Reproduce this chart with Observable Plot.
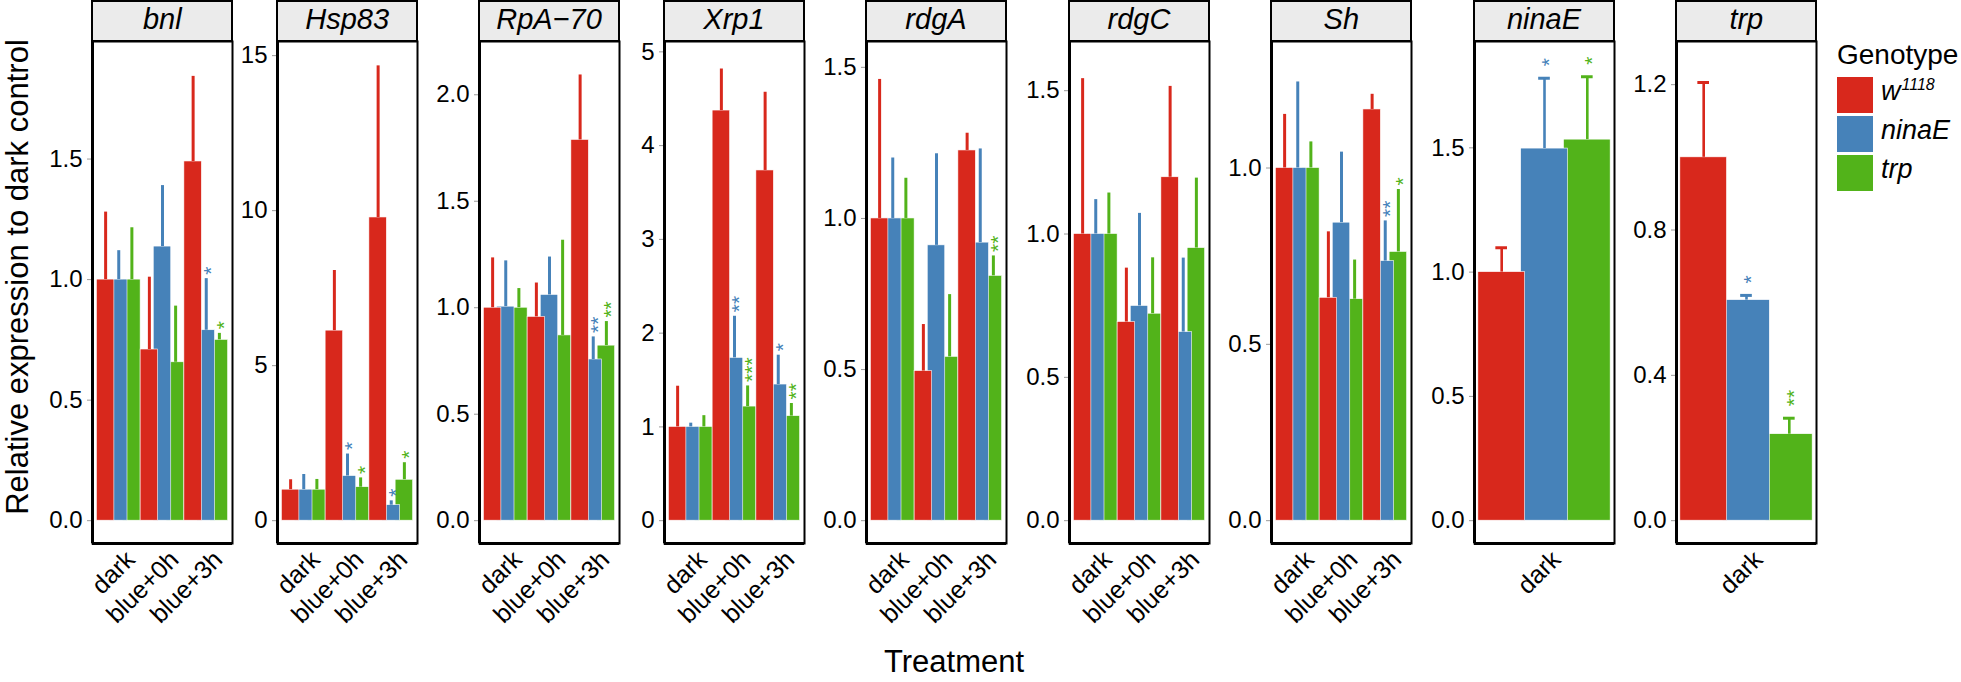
<!DOCTYPE html>
<html>
<head>
<meta charset="utf-8">
<script src="https://cdn.jsdelivr.net/npm/d3@7"></script>
<script src="https://cdn.jsdelivr.net/npm/@observablehq/plot@0.6"></script>
<style>
  body { margin: 0; background: #fff; font-family: "Liberation Sans", Arial, sans-serif; }
  #chart { position: relative; width: 1961px; height: 682px; overflow: hidden; background: #fff; }
  .strip { position: absolute; top: 0; height: 42px; box-sizing: border-box; border: 2px solid #000;
           background: #EBEBEB; }
  .strip span { position: absolute; left: 0; right: 0; top: 3px; text-align: center; font-style: italic;
                font-size: 29px; line-height: 29px; color: #000; }
  .ytitle { position: absolute; left: 16.5px; top: 277px; transform: translate(-50%, -50%) rotate(-90deg);
            white-space: nowrap; font-size: 31px; line-height: 31px; color: #000; }
  .xtitle { position: absolute; left: 954px; top: 646px; transform: translateX(-50%);
            white-space: nowrap; font-size: 31px; line-height: 31px; color: #000; }
  .legtitle { position: absolute; left: 1837px; top: 41px; font-size: 28px; line-height: 28px; color: #000; }
  .key { position: absolute; left: 1837px; width: 36px; height: 36px; }
  .klab { position: absolute; left: 1881px; font-size: 27px; line-height: 27px; font-style: italic; color: #000; white-space: nowrap; }
  .klab sup { font-size: 16px; vertical-align: baseline; position: relative; top: -10px; line-height: 0; margin-left: 1px; }
</style>
</head>
<body>
<div id="chart"></div>
<script>
// ---------------- data ----------------
const treatments = ["dark", "blue+0h", "blue+3h"];
const genotypes = ["w1118", "ninaE", "trp"];
const genotypeColors = ["#D8281C", "#4682B9", "#52B31A"];
const genes = ["bnl", "Hsp83", "RpA\u221270", "Xrp1", "rdgA", "rdgC", "Sh", "ninaE", "trp"];

// values ordered: dark (w1118, ninaE, trp), blue+0h (...), blue+3h (...)
// mean = bar height, upper = mean + s.e. (top of error bar), sig = significance label
const bnlMean  = [1.00, 1.00, 1.00,  0.71, 1.137, 0.657,  1.49, 0.79, 0.75];
const bnlUpper = [1.28, 1.12, 1.215, 1.01, 1.39, 0.89,   1.843, 1.004, 0.777];
const bnlSig   = ["", "", "",  "", "", "",  "", "*", "*"];

const hsp83Mean  = [1.00, 1.00, 1.00,  6.13, 1.44, 1.08,  9.78, 0.50, 1.32];
const hsp83Upper = [1.32, 1.49, 1.33,  8.07, 2.15, 1.38,  14.67, 0.64, 1.87];
const hsp83Sig   = ["", "", "",  "", "*", "*",  "", "*", "*"];

const rpaMean  = [1.00, 1.005, 1.00,  0.957, 1.06, 0.87,  1.788, 0.757, 0.822];
const rpaUpper = [1.234, 1.22, 1.09,  1.116, 1.238, 1.317,  2.093, 0.863, 0.935];
const rpaSig   = ["", "", "",  "", "", "",  "", "**", "**"];

const xrp1Mean  = [1.00, 1.00, 1.00,  4.374, 1.736, 1.217,  3.735, 1.452, 1.115];
const xrp1Upper = [1.434, 1.04, 1.12,  4.817, 2.18, 1.437,  4.569, 1.765, 1.25];
const xrp1Sig   = ["", "", "",  "", "**", "***",  "", "*", "**"];

const rdgAMean  = [1.00, 1.00, 1.00,  0.495, 0.911, 0.542,  1.225, 0.92, 0.81];
const rdgAUpper = [1.46, 1.20, 1.133,  0.649, 1.214, 0.748,  1.282, 1.23, 0.876];
const rdgASig   = ["", "", "",  "", "", "",  "", "", "**"];

const rdgCMean  = [1.00, 1.00, 1.00,  0.693, 0.749, 0.722,  1.198, 0.658, 0.951];
const rdgCUpper = [1.542, 1.12, 1.143,  0.881, 1.072, 0.917,  1.515, 0.916, 1.195];
const rdgCSig   = ["", "", "",  "", "", "",  "", "", ""];

const shMean  = [1.00, 1.00, 1.00,  0.632, 0.845, 0.628,  1.166, 0.736, 0.762];
const shUpper = [1.152, 1.244, 1.074,  0.819, 1.045, 0.739,  1.209, 0.85, 0.939];
const shSig   = ["", "", "",  "", "", "",  "", "**", "*"];

const ninaEMean  = [1.00, 1.497, 1.533];
const ninaEUpper = [1.098, 1.78, 1.786];
const ninaESig   = ["", "*", "*"];

const trpMean  = [1.00, 0.607, 0.238];
const trpUpper = [1.206, 0.62, 0.282];
const trpSig   = ["", "*", "**"];

// y tick values per panel
const bnlTicks   = [0, 0.5, 1, 1.5];
const hsp83Ticks = [0, 5, 10, 15];
const rpaTicks   = [0, 0.5, 1, 1.5, 2];
const xrp1Ticks  = [0, 1, 2, 3, 4, 5];
const rdgATicks  = [0, 0.5, 1, 1.5];
const rdgCTicks  = [0, 0.5, 1, 1.5];
const shTicks    = [0, 0.5, 1];
const ninaETicks = [0, 0.5, 1, 1.5];
const trpTicks   = [0, 0.4, 0.8, 1.2];

const means  = [bnlMean, hsp83Mean, rpaMean, xrp1Mean, rdgAMean, rdgCMean, shMean, ninaEMean, trpMean];
const uppers = [bnlUpper, hsp83Upper, rpaUpper, xrp1Upper, rdgAUpper, rdgCUpper, shUpper, ninaEUpper, trpUpper];
const sigs   = [bnlSig, hsp83Sig, rpaSig, xrp1Sig, rdgASig, rdgCSig, shSig, ninaESig, trpSig];
const tickSets = [bnlTicks, hsp83Ticks, rpaTicks, xrp1Ticks, rdgATicks, rdgCTicks, shTicks, ninaETicks, trpTicks];

// ---------------- layout (pixels) ----------------
const panelLeft = [92.3, 277.2, 479, 664, 866, 1069, 1271.3, 1474, 1676.3];
const panelW = 140;
const panelTop = 41, panelH = 502;
const ML = 70, MR = 2, MB = 120;

const chart = document.getElementById("chart");

genes.forEach((gene, k) => {
  const mean = means[k], upper = uppers[k], sig = sigs[k];
  const nT = mean.length / 3;
  const single = nT === 1;
  const step = single ? 0.367 : 0.3;   // dodge spacing
  const halfW = 0.2;                   // half bar width
  const rows = [];
  for (let t = 0; t < nT; t++) {
    for (let g = 0; g < 3; g++) {
      const i = t * 3 + g;
      rows.push({t: t + 1, geno: genotypes[g], g, c: (t + 1) + (g - 1) * step,
                 mean: mean[i], upper: upper[i], sig: sig[i]});
    }
  }
  const M = d3.max(upper) + 0.05;
  const xDom = [0.4, nT + 0.6];
  const yDom = [-0.05 * M, 1.05 * M];
  const drawOrder = rows.slice().sort((a, b) => b.g - a.g); // red drawn last (on top)
  const ticks = tickSets[k];
  const fmt = ticks.every(Number.isInteger) ? d3.format("d") : d3.format(".1f");

  const svg = Plot.plot({
    width: ML + panelW + MR,
    height: panelH + MB,
    marginLeft: ML, marginRight: MR, marginTop: 0, marginBottom: MB,
    x: {type: "linear", domain: xDom, label: null},
    y: {domain: yDom, label: null},
    color: {domain: genotypes, range: genotypeColors},
    style: {background: "transparent", overflow: "visible", maxWidth: "none",
            fontFamily: "'Liberation Sans', Arial, sans-serif", fontSize: "24px", color: "#000"},
    marks: [
      Plot.rect(drawOrder, {x1: d => d.c - halfW, x2: d => d.c + halfW, y1: 0, y2: "mean",
                            fill: "geno", stroke: "white", strokeWidth: 0.6}),
      Plot.ruleX(rows, {x: "c", y1: "mean", y2: "upper", stroke: "geno", strokeWidth: single ? 2.6 : 3}),
      single ? Plot.ruleY(rows, {y: "upper", x1: d => d.c - 0.05, x2: d => d.c + 0.05,
                                 stroke: "geno", strokeWidth: 3}) : null,
      Plot.text(rows.filter(d => d.sig), {x: "c", y: "upper", text: "sig", fill: "geno",
                rotate: -90, textAnchor: "start", lineAnchor: "middle", fontSize: 21,
                dx: 5, dy: single ? -12 : -4}),
      Plot.axisY({ticks, tickFormat: fmt, tickSize: 5, tickPadding: 5, stroke: "#9a9a9a", fill: "#000",
                  fontSize: 24, label: null}),
      Plot.axisX({ticks: d3.range(1, nT + 1), tickFormat: d => treatments[d - 1], tickSize: 0,
                  tickPadding: 5, tickRotate: -45, textAnchor: "end", lineAnchor: "top", dx: 5,
                  fontSize: 25, fill: "#000", label: null}),
      Plot.frame({stroke: "#000", strokeWidth: 2}),
      Plot.ruleX([xDom[0]], {stroke: "#000", strokeWidth: 3}),
      Plot.ruleY([yDom[0]], {stroke: "#000", strokeWidth: 3})
    ]
  });
  svg.style.position = "absolute";
  svg.style.left = (panelLeft[k] - ML) + "px";
  svg.style.top = panelTop + "px";
  chart.appendChild(svg);

  const strip = document.createElement("div");
  strip.className = "strip";
  strip.style.left = (panelLeft[k] - 1) + "px";
  strip.style.width = (panelW + 2) + "px";
  const sp = document.createElement("span");
  sp.textContent = gene;
  strip.appendChild(sp);
  chart.appendChild(strip);
});

// axis titles
const yt = document.createElement("div");
yt.className = "ytitle";
yt.textContent = "Relative expression to dark control";
chart.appendChild(yt);
const xt = document.createElement("div");
xt.className = "xtitle";
xt.textContent = "Treatment";
chart.appendChild(xt);

// legend
const lt = document.createElement("div");
lt.className = "legtitle";
lt.textContent = "Genotype";
chart.appendChild(lt);
const keyTop = [77, 116, 155];
const keyLabels = ["w<sup>1118</sup>", "ninaE", "trp"];
genotypes.forEach((g, i) => {
  const k = document.createElement("div");
  k.className = "key";
  k.style.top = keyTop[i] + "px";
  k.style.background = genotypeColors[i];
  chart.appendChild(k);
  const l = document.createElement("div");
  l.className = "klab";
  l.style.top = (keyTop[i] + 18 + 7 - 24) + "px";
  l.innerHTML = keyLabels[i];
  chart.appendChild(l);
});
</script>
</body>
</html>
